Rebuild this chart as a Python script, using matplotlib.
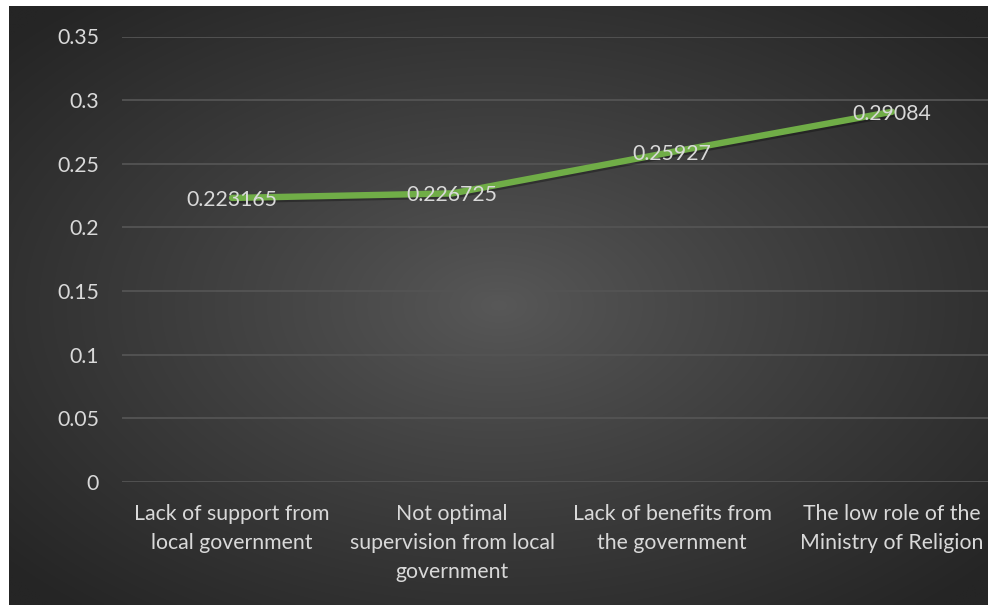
import numpy as np
import matplotlib
matplotlib.use("Agg")
import matplotlib.pyplot as plt
import matplotlib.patheffects as pe

categories = ["Lack of support from\nlocal government",
              "Not optimal\nsupervision from local\ngovernment",
              "Lack of benefits from\nthe government",
              "The low role of the\nMinistry of Religion"]
values = [0.223165, 0.226725, 0.25927, 0.29084]
value_labels = ["0.223165", "0.226725", "0.25927", "0.29084"]
yticks = [0, 0.05, 0.1, 0.15, 0.2, 0.25, 0.3, 0.35]
ytick_labels = ["0", "0.05", "0.1", "0.15", "0.2", "0.25", "0.3", "0.35"]

plt.rcParams['font.family'] = ['Lato', 'DejaVu Sans']

W, H = 988, 605
fig = plt.figure(figsize=(W / 100, H / 100), dpi=100)
fig.patch.set_facecolor("white")

# background radial gradient (chart area starts at x=9, y=6)
bx0, by0 = 9 / W, 0.0
bg = fig.add_axes([bx0, by0, 1 - bx0, 1 - 6 / H])
bg.set_axis_off()
nx, ny = 400, 250
xx, yy = np.meshgrid(np.linspace(-1, 1, nx), np.linspace(-1, 1, ny))
r = np.sqrt(xx ** 2 + yy ** 2) / np.sqrt(2)
inner = np.array([0x58, 0x58, 0x58]) / 255
outer = np.array([0x25, 0x25, 0x25]) / 255
t = np.clip(r / 0.95, 0, 1) ** 0.9
img = inner[None, None, :] * (1 - t[..., None]) + outer[None, None, :] * t[..., None]
bg.imshow(img, aspect="auto", extent=[0, 1, 0, 1], interpolation="bilinear")
bg.set_xlim(0, 1)
bg.set_ylim(0, 1)

left = 122 / W
right = 1002 / W
bottom = 1 - 482 / H
top = 1 - 36.5 / H
ax = fig.add_axes([left, bottom, right - left, top - bottom])
ax.patch.set_alpha(0)

FS = 15.3
x = np.arange(len(categories))
ax.plot(x, values, color="#70AD47", lw=4.6, solid_capstyle="round", zorder=3,
        path_effects=[pe.SimpleLineShadow(offset=(1, -1.5), shadow_color="black", alpha=0.3),
                      pe.Normal()])
for xi, v, lab in zip(x, values, value_labels):
    ax.annotate(lab, (xi, v), xytext=(0, -1.5), textcoords="offset points",
                ha="center", va="center", color="#D9D9D9", fontsize=FS, zorder=4)

ax.set_xlim(-0.5, len(categories) - 0.5)
ax.set_ylim(0, 0.35)
ax.set_yticks(yticks)
ax.set_yticklabels(ytick_labels)
ax.set_xticks(x)
ax.set_xticklabels(categories, linespacing=1.55)
ax.tick_params(axis="both", length=0, colors="#D9D9D9", labelsize=FS)
ax.tick_params(axis="y", pad=16.5)
ax.tick_params(axis="x", pad=16)
ax.grid(axis="y", color="#545454", lw=1.3)
ax.set_axisbelow(True)
for s in ax.spines.values():
    s.set_visible(False)

fig.savefig("out.png", dpi=100, facecolor=fig.get_facecolor())
